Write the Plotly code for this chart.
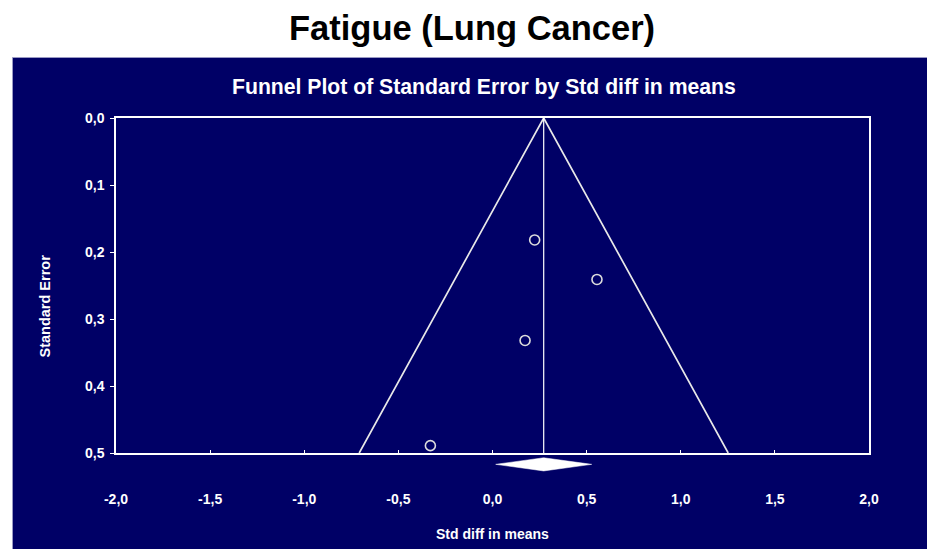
import plotly.graph_objects as go

# ---- data ----
study_effect = [0.224, 0.555, 0.173, -0.330]   # Std diff in means
study_se = [0.182, 0.241, 0.332, 0.489]        # Standard Error
summary_effect = 0.272
summary_ci_low = 0.017
summary_ci_high = 0.527
z_crit = 1.96
se_max = 0.5

x_tickvals = [-2.0, -1.5, -1.0, -0.5, 0.0, 0.5, 1.0, 1.5, 2.0]
x_ticktext = ["-2,0", "-1,5", "-1,0", "-0,5", "0,0", "0,5", "1,0", "1,5", "2,0"]
y_tickvals = [0.0, 0.1, 0.2, 0.3, 0.4, 0.5]
y_ticktext = ["0,0", "0,1", "0,2", "0,3", "0,4", "0,5"]

title_main = "Fatigue (Lung Cancer)"
title_sub = "Funnel Plot of Standard Error by Std diff in means"
x_title = "Std diff in means"
y_title = "Standard Error"

# ---- layout geometry (page pixels; the page body adds an 8px offset) ----
OFF = 8
W, H = 935, 549
plot_left, plot_right, plot_top, strip_bottom = 116, 869, 118, 475
L = plot_left - OFF
T = plot_top - OFF
R = W - (plot_right - OFF)
B = H - (strip_bottom - OFF)
PW, PH = W - L - R, H - T - B
NAVY = "#000066"
FONT = "Arial, Liberation Sans, sans-serif"


def px(xp):
    return (xp - OFF - L) / PW


def py(yp):
    return (H - B - (yp - OFF)) / PH


main_bottom = py(453)

fig = go.Figure()

# funnel
fig.add_trace(go.Scatter(
    x=[summary_effect - z_crit * se_max, summary_effect, summary_effect + z_crit * se_max],
    y=[se_max, 0, se_max],
    mode="lines", line=dict(color="#e8e8e8", width=1.7),
    hoverinfo="skip", showlegend=False))
# summary vertical line
fig.add_trace(go.Scatter(
    x=[summary_effect, summary_effect], y=[0, se_max],
    mode="lines", line=dict(color="#ffffff", width=1.2),
    hoverinfo="skip", showlegend=False))
# studies
fig.add_trace(go.Scatter(
    x=study_effect, y=study_se, mode="markers",
    marker=dict(symbol="circle-open", size=10, color="#dcdcdc", line=dict(width=1.6)),
    showlegend=False))
# summary diamond (own strip below the axis)
fig.add_trace(go.Scatter(
    x=[summary_ci_low, summary_effect, summary_ci_high, summary_effect, summary_ci_low],
    y=[0, 1, 0, -1, 0],
    mode="lines", fill="toself", fillcolor="#ffffff",
    line=dict(color="#ffffff", width=0.5),
    xaxis="x", yaxis="y2", hoverinfo="skip", showlegend=False))

tickfont = dict(family=FONT, size=14, color="#ffffff", weight="bold")

fig.update_layout(
    width=W, height=H,
    margin=dict(l=L, r=R, t=T, b=B, pad=0),
    paper_bgcolor="#ffffff",
    plot_bgcolor="rgba(0,0,0,0)",
    font=dict(family=FONT, color="#ffffff"),
    xaxis=dict(range=[-2, 2], tickvals=x_tickvals, ticktext=x_ticktext,
               ticks="inside", ticklen=3, tickwidth=1.2, tickcolor="#ffffff",
               showline=True, linecolor="#ffffff", linewidth=1.5, mirror=True,
               showgrid=False, zeroline=False, anchor="y",
               tickfont=tickfont, ticklabelstandoff=32),
    xaxis2=dict(range=[-2, 2], tickvals=x_tickvals, overlaying="x", anchor="y",
                ticks="outside", ticklen=3, tickwidth=1.2, tickcolor="#ffffff",
                showticklabels=False, showline=False, showgrid=False, zeroline=False),
    yaxis=dict(range=[0.5, 0], tickvals=y_tickvals, ticktext=y_ticktext,
               domain=[main_bottom, 1], anchor="x",
               ticks="outside", ticklen=4, tickwidth=1.2, tickcolor="#ffffff",
               showline=True, linecolor="#ffffff", linewidth=1.5, mirror=True,
               showgrid=False, zeroline=False,
               tickfont=tickfont, ticklabelstandoff=3),
    yaxis2=dict(range=[-1.25, 1.25], domain=[py(472.6), py(456.1)], anchor="x",
                visible=False),
    shapes=[dict(type="rect", xref="paper", yref="paper",
                 x0=px(12.5), x1=px(960), y0=py(580), y1=py(57.5),
                 fillcolor=NAVY, line=dict(color="#9a9ac4", width=1), layer="below")],
    annotations=[
        dict(text="<b>%s</b>" % title_main, x=px(471.5), y=py(28), xref="paper", yref="paper",
             showarrow=False, xanchor="center", yanchor="middle",
             font=dict(family=FONT, size=34.5, color="#000000")),
        dict(text="<b>%s</b>" % title_sub, x=px(483.5), y=py(87), xref="paper", yref="paper",
             showarrow=False, xanchor="center", yanchor="middle",
             font=dict(family=FONT, size=21.2, color="#ffffff")),
        dict(text="<b>%s</b>" % x_title, x=px(492.5), y=py(534), xref="paper", yref="paper",
             showarrow=False, xanchor="center", yanchor="middle",
             font=dict(family=FONT, size=14, color="#ffffff")),
        dict(text="<b>%s</b>" % y_title, x=px(44), y=py(306.5), xref="paper", yref="paper",
             showarrow=False, xanchor="center", yanchor="middle", textangle=-90,
             font=dict(family=FONT, size=14.5, color="#ffffff")),
    ],
)

fig.write_html("out.html")
